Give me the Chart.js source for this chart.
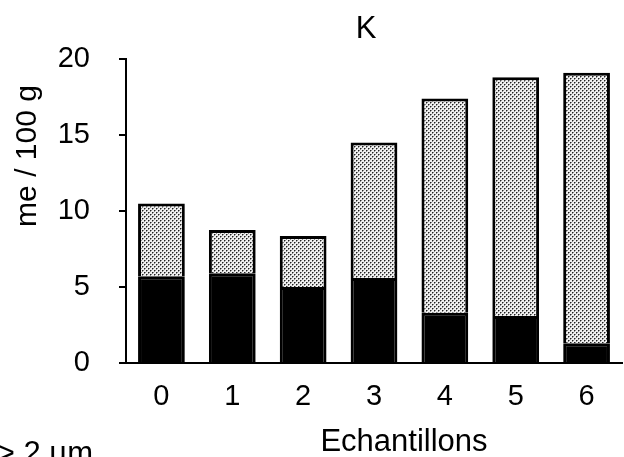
<!DOCTYPE html>
<html>
<head>
<meta charset="utf-8">
<script src="https://cdn.jsdelivr.net/npm/chart.js@4"></script>
<style>
html,body{margin:0;padding:0;background:#fff;}
canvas{display:block;}
</style>
</head>
<body>
<canvas id="c" width="624" height="457"></canvas>
<script>
const categories = ['0','1','2','3','4','5','6'];
const lowerValues = [5.7, 5.9, 5.0, 5.6, 3.3, 3.1, 1.3];
const upperValues = [4.8, 2.85, 3.35, 8.9, 14.1, 15.7, 17.8];
const yTicks = [0, 5, 10, 15, 20];
const titleText = 'K';
const yTitle = 'me / 100 g';
const xTitle = 'Echantillons';
const legendText = '> 2 µm';

const FAMILY = '"Liberation Sans", Arial, sans-serif';

function makePattern() {
  const p = document.createElement('canvas');
  p.width = 4; p.height = 4;
  const g = p.getContext('2d');
  g.fillStyle = '#efefef'; g.fillRect(0,0,4,4);
  g.fillStyle = '#8a8a8a';
  [[1,0],[0,1],[3,2],[2,3]].forEach(([x,y]) => g.fillRect(x,y,1,1));
  g.fillStyle = '#222';
  [[0,0],[2,2]].forEach(([x,y]) => g.fillRect(x,y,1,1));
  return document.getElementById('c').getContext('2d').createPattern(p, 'repeat');
}

const textPlugin = {
  id: 'texts',
  afterDraw(chart) {
    const ctx = chart.ctx;
    ctx.save();
    ctx.fillStyle = '#000';
    ctx.font = '31px ' + FAMILY;
    ctx.textAlign = 'center';
    ctx.textBaseline = 'alphabetic';
    ctx.fillText(titleText, 366, 38);
    ctx.fillText(xTitle, 404, 451);
    ctx.textAlign = 'right';
    ctx.fillText(legendText, 93, 463);
    ctx.save();
    ctx.translate(28, 156);
    ctx.rotate(-Math.PI/2);
    ctx.textAlign = 'center';
    ctx.textBaseline = 'middle';
    ctx.font = '30px ' + FAMILY;
    ctx.fillText(yTitle, 0, 0);
    ctx.restore();
    ctx.restore();
  }
};

new Chart(document.getElementById('c'), {
  type: 'bar',
  data: {
    labels: categories,
    datasets: [
      { data: lowerValues, backgroundColor: '#000', borderColor: '#000', borderWidth: 3, barPercentage: 0.66, categoryPercentage: 1 },
      { data: upperValues, backgroundColor: makePattern(), borderColor: '#000', borderWidth: 3, borderSkipped: 'bottom', barPercentage: 0.66, categoryPercentage: 1 }
    ]
  },
  options: {
    responsive: false,
    animation: false,
    layout: { padding: { top: 59, right: 2, left: 0, bottom: 0 } },
    plugins: { legend: { display: false }, title: { display: false }, tooltip: { enabled: false } },
    scales: {
      x: {
        stacked: true,
        grid: { display: false, drawTicks: false },
        border: { display: true, color: '#000', width: 2 },
        ticks: { font: { size: 29, family: FAMILY }, color: '#000', padding: 17 },
        afterFit(s) { s.height = 94; }
      },
      y: {
        stacked: true,
        min: 0, max: 20,
        afterBuildTicks(s) { s.ticks = yTicks.map(v => ({ value: v })); },
        ticks: { font: { size: 29, family: FAMILY }, color: '#000', padding: 29 },
        grid: { drawOnChartArea: false, drawTicks: true, tickLength: 7, color: '#000', lineWidth: 2 },
        border: { color: '#000', width: 2 },
        afterFit(s) { s.width = 126; }
      }
    }
  },
  plugins: [textPlugin]
});
</script>
</body>
</html>
